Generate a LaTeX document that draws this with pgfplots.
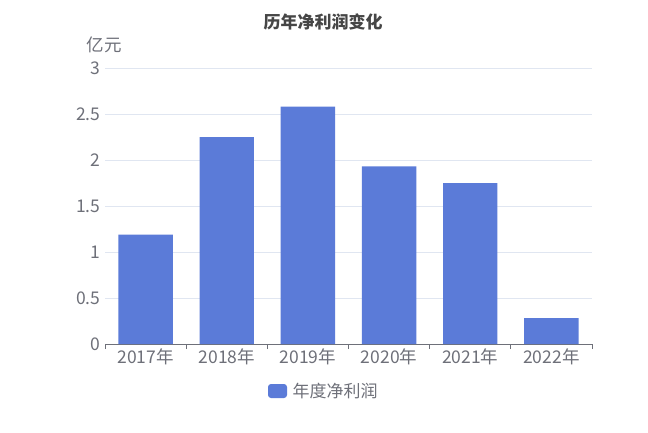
\documentclass[border=0pt]{standalone}
\usepackage{pgfplots}
\pgfplotsset{compat=1.18}
\usepackage{fontspec}
\setmainfont{Noto Sans CJK SC}
\definecolor{barblue}{HTML}{5B7BD8}
\definecolor{gridc}{HTML}{E0E6F1}
\definecolor{axisc}{HTML}{6E7079}
\definecolor{titlec}{HTML}{464646}
\begin{document}
\begin{tikzpicture}[x=1pt,y=1pt]
\path[use as bounding box] (0,0) rectangle (648,432);
\begin{axis}[
  at={(105pt,88pt)}, anchor=south west,
  scale only axis, width=487pt, height=276pt,
  xmin=-0.5, xmax=5.5, ymin=0, ymax=3,
  ytick={0,0.5,1,1.5,2,2.5,3},
  yticklabels={0,0.5,1,1.5,2,2.5,3},
  xtick={0,1,2,3,4,5},
  xticklabels={2017年,2018年,2019年,2020年,2021年,2022年},
  minor xtick={-0.5,0.5,1.5,2.5,3.5,4.5,5.5},
  major tick length=0pt, minor tick length=5pt,
  tick align=outside,
  minor tick style={axisc, line width=0.8pt},
  axis x line*=bottom, axis y line*=left,
  x axis line style={axisc, line width=0.8pt, -},
  y axis line style={draw=none},
  ymajorgrids, grid style={gridc, line width=0.8pt},
  tick label style={font=\fontsize{17.5}{20}\selectfont, text=axisc},
  xticklabel style={yshift=-1pt},
  yticklabel style={xshift=-1pt},
  ytick style={draw=none},
  clip=false,
]
\addplot[ybar, bar width=0.67, fill=barblue, draw=none] coordinates {
(0,1.19) (1,2.25) (2,2.58) (3,1.93) (4,1.75) (5,0.28)};
\end{axis}
\node[font=\fontsize{17}{20}\selectfont\bfseries, text=titlec] at (323,410) {历年净利润变化};
\node[font=\fontsize{17.5}{20}\selectfont, text=axisc] at (104,387) {亿元};
\fill[barblue, rounded corners=3pt] (268,34) rectangle (287,48);
\node[font=\fontsize{17}{20}\selectfont, text=axisc, anchor=west] at (289,41) {年度净利润};
\end{tikzpicture}
\end{document}
